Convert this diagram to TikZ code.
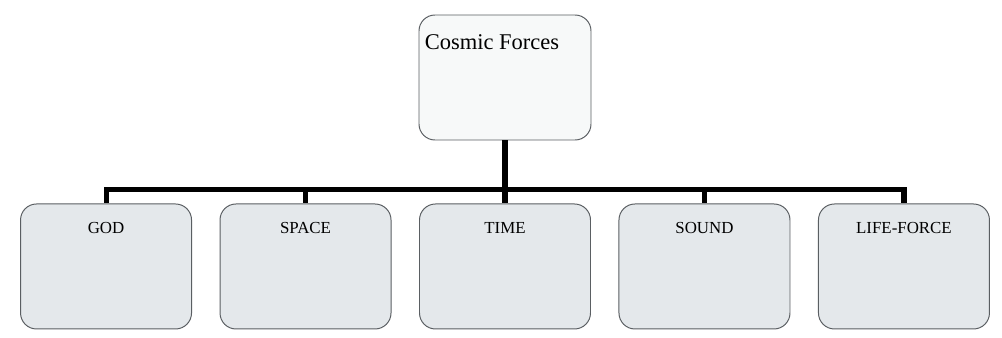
\documentclass[tikz,border=0pt]{standalone}
\usepackage{xcolor}
\usepackage{fontspec}
\setmainfont{Liberation Serif}
\usetikzlibrary{positioning, calc}
\definecolor{boxline}{HTML}{5A5E62}
\definecolor{boxfill}{HTML}{E4E8EB}
\definecolor{topfill}{HTML}{F7F9F9}

\begin{document}
\begin{tikzpicture}[
  node distance=0.6875cm,
  topbox/.style={rectangle, rounded corners=0.4cm, draw=boxline, line width=0.7pt, fill=topfill, minimum width=4.3cm, minimum height=3.125cm},
  forcebox/.style={rectangle, rounded corners=0.4cm, draw=boxline, line width=0.7pt, fill=boxfill, minimum width=4.275cm, minimum height=3.125cm},
  tag/.style={anchor=base, inner sep=0pt, yshift=-0.75cm, font=\fontsize{12}{14}\selectfont},
  link/.style={line width=3.6pt, black}
]
  \useasboundingbox (0,0) rectangle (25.05,8.425);

  % Root
  \node[topbox, label={[anchor=base west, inner sep=0pt, xshift=0.15cm, yshift=-0.875cm, font=\fontsize{16}{18}\selectfont]north west:Cosmic Forces}] (cosmic) at (12.625,6.4875) {};

  % Forces
  \node[forcebox, below=1.575cm of cosmic, label={[tag]north:TIME}] (time) {};
  \node[forcebox, left=of time, label={[tag]north:SPACE}] (space) {};
  \node[forcebox, left=of space, label={[tag]north:GOD}] (god) {};
  \node[forcebox, right=of time, label={[tag]north:SOUND}] (sound) {};
  \node[forcebox, right=of sound, label={[tag]north:LIFE-FORCE}] (life) {};

  % Connectors
  \coordinate[below=1.225cm of cosmic.south] (hub);
  \draw[link] (cosmic.south) -- (time.north);
  \draw[link] (hub) -| (god.north);
  \draw[link] (hub) -| (space.north);
  \draw[link] (hub) -| (sound.north);
  \draw[link] (hub) -| (life.north);
\end{tikzpicture}
\end{document}
